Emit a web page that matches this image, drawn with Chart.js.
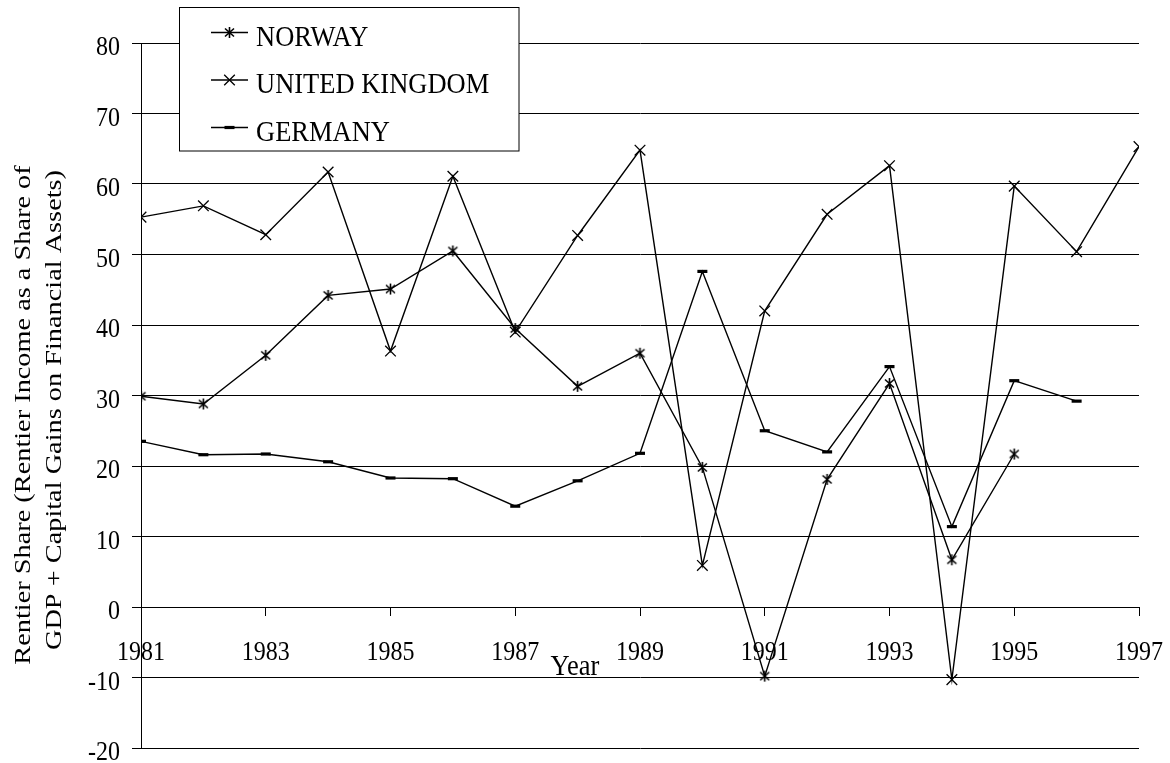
<!DOCTYPE html>
<html>
<head>
<meta charset="utf-8">
<title>Rentier Share</title>
<script src="https://cdn.jsdelivr.net/npm/chart.js@4.4.1/dist/chart.umd.min.js"></script>
<style>
    html, body { margin: 0; padding: 0; background: #fff; }
</style>
</head>
<body>
<canvas id="myChart" width="1170" height="763"></canvas>
<script>
// Years on the x axis and the three country series
const years = [1981, 1982, 1983, 1984, 1985, 1986, 1987, 1988, 1989,
               1990, 1991, 1992, 1993, 1994, 1995, 1996, 1997];
const norway = [29.9, 28.8, 35.7, 44.2, 45.1, 50.5, 39.5, 31.3, 36.0,
                19.8, -9.8, 18.1, 31.7, 6.7, 21.7];
const unitedKingdom = [55.3, 56.9, 52.8, 61.7, 36.3, 61.1, 39.0, 52.7, 64.8,
                       5.9, 42.0, 55.7, 62.6, -10.3, 59.7, 50.4, 65.3];
const germany = [23.5, 21.6, 21.7, 20.6, 18.3, 18.2, 14.3, 17.9, 21.8,
                 47.6, 25.0, 22.0, 34.1, 11.4, 32.1, 29.2];
const seriesNames = ['NORWAY', 'UNITED KINGDOM', 'GERMANY'];
const yearTicks = [1981, 1983, 1985, 1987, 1989, 1991, 1993, 1995, 1997];
const yMin = -20, yMax = 80, yStep = 10;
const xTitle = 'Year';
const yTitle = ['Rentier Share (Rentier Income as a Share of',
                'GDP + Capital Gains on Financial Assets)'];

const FONT = '24px "Liberation Serif", "Times New Roman", serif';
const LABEL_FONT = '26.5px "Liberation Serif", "Times New Roman", serif';
const TEXT_STRETCH = 1.18;  // numbers are a bit taller than wide
const LABEL_STRETCH = 1.08;

// asterisk marker: an X with a vertical stroke through it
function makeAsterisk() {
    const c = document.createElement('canvas');
    c.width = 13; c.height = 13;
    const g = c.getContext('2d');
    g.strokeStyle = '#000';
    g.lineWidth = 1.6;
    g.beginPath();
    g.moveTo(6.5, 1); g.lineTo(6.5, 12);
    g.moveTo(2, 2.5); g.lineTo(11, 10.5);
    g.moveTo(11, 2.5); g.lineTo(2, 10.5);
    g.stroke();
    return c;
}
const asterisk = makeAsterisk();

function toPoints(values) {
    return values.map((v, i) => ({ x: years[i], y: v }));
}

function stretchedText(ctx, text, x, y, align, stretch) {
    ctx.save();
    ctx.translate(x, y);
    ctx.scale(1, stretch);
    ctx.textAlign = align;
    ctx.textBaseline = 'alphabetic';
    ctx.fillText(text, 0, 0);
    ctx.restore();
}

// tick labels, axis titles and the boxed legend
const textPlugin = {
    id: 'textPlugin',
    afterDraw(chart) {
        const ctx = chart.ctx;
        const xs = chart.scales.x, ys = chart.scales.y;
        const area = chart.chartArea;
        ctx.save();
        ctx.font = FONT;
        ctx.fillStyle = '#000';

        ys.ticks.forEach(t => {
            stretchedText(ctx, String(t.value), area.left - 21, ys.getPixelForValue(t.value) + 12.4, 'right', TEXT_STRETCH);
        });
        const axisY = ys.getPixelForValue(0);
        xs.ticks.forEach(t => {
            stretchedText(ctx, String(t.value), xs.getPixelForValue(t.value), axisY + 53, 'center', TEXT_STRETCH);
        });

        // rotated y axis title, two lines
        [[30, 415], [61, 410]].forEach((pos, i) => {
            ctx.save();
            ctx.translate(pos[0], pos[1]);
            ctx.rotate(-Math.PI / 2);
            ctx.scale(TEXT_STRETCH, 1);
            ctx.textAlign = 'center';
            ctx.textBaseline = 'alphabetic';
            ctx.fillText(yTitle[i], 0, 0);
            ctx.restore();
        });

        ctx.font = LABEL_FONT;
        stretchedText(ctx, xTitle, 575, 675, 'center', LABEL_STRETCH);

        // legend box
        ctx.fillStyle = '#fff';
        ctx.fillRect(179.5, 7.5, 339.5, 143.5);
        ctx.strokeStyle = '#000';
        ctx.lineWidth = 1;
        ctx.strokeRect(179.5, 7.5, 339.5, 143.5);
        const rows = [32.5, 80, 127.5];
        chart.data.datasets.forEach((ds, i) => {
            const y = rows[i];
            ctx.strokeStyle = '#000';
            ctx.lineWidth = 1.4;
            ctx.beginPath();
            ctx.moveTo(211, y);
            ctx.lineTo(248, y);
            ctx.stroke();
            ctx.lineWidth = ds.pointBorderWidth;
            Chart.helpers.drawPoint(ctx, {
                pointStyle: ds.pointStyle,
                radius: ds.pointRadius,
                borderWidth: ds.pointBorderWidth,
                rotation: 0
            }, 229.5, y);
            ctx.fillStyle = '#000';
            stretchedText(ctx, ds.label, 256, y + 13, 'left', LABEL_STRETCH);
        });
        ctx.restore();
    }
};

const common = {
    borderColor: '#000',
    backgroundColor: '#000',
    pointBorderColor: '#000',
    pointBackgroundColor: '#000',
    borderWidth: 1.4,
    fill: false,
    tension: 0
};

const ctx = document.getElementById('myChart').getContext('2d');
const myChart = new Chart(ctx, {
    type: 'line',
    data: {
        datasets: [
            Object.assign({}, common, {
                label: seriesNames[0],
                data: toPoints(norway),
                pointStyle: asterisk,
                pointRadius: 6,
                pointBorderWidth: 1.3
            }),
            Object.assign({}, common, {
                label: seriesNames[1],
                data: toPoints(unitedKingdom),
                pointStyle: 'crossRot',
                pointRadius: 7.5,
                pointBorderWidth: 1.3
            }),
            Object.assign({}, common, {
                label: seriesNames[2],
                data: toPoints(germany),
                pointStyle: 'line',
                pointRadius: 5,
                pointBorderWidth: 3.2
            })
        ]
    },
    options: {
        responsive: false,
        animation: false,
        layout: { padding: { top: 43, bottom: 15, right: 31, left: 0 } },
        plugins: {
            legend: { display: false },
            tooltip: { enabled: false }
        },
        scales: {
            x: {
                type: 'linear',
                min: 1981,
                max: 1997,
                position: { y: 0 },
                afterBuildTicks: axis => {
                    axis.ticks = yearTicks.map(v => ({ value: v }));
                },
                ticks: { display: false },
                grid: {
                    drawOnChartArea: false,
                    drawTicks: true,
                    tickLength: 8,
                    tickColor: '#000',
                    tickWidth: 1
                },
                border: { display: true, color: '#000', width: 1 }
            },
            y: {
                min: yMin,
                max: yMax,
                ticks: { stepSize: yStep, display: false },
                afterFit: scale => { scale.width = 141; },
                grid: {
                    color: '#000',
                    lineWidth: 1,
                    drawTicks: true,
                    tickLength: 9,
                    tickColor: '#000'
                },
                border: { display: true, color: '#000', width: 1 }
            }
        }
    },
    plugins: [textPlugin]
});
</script>
</body>
</html>
